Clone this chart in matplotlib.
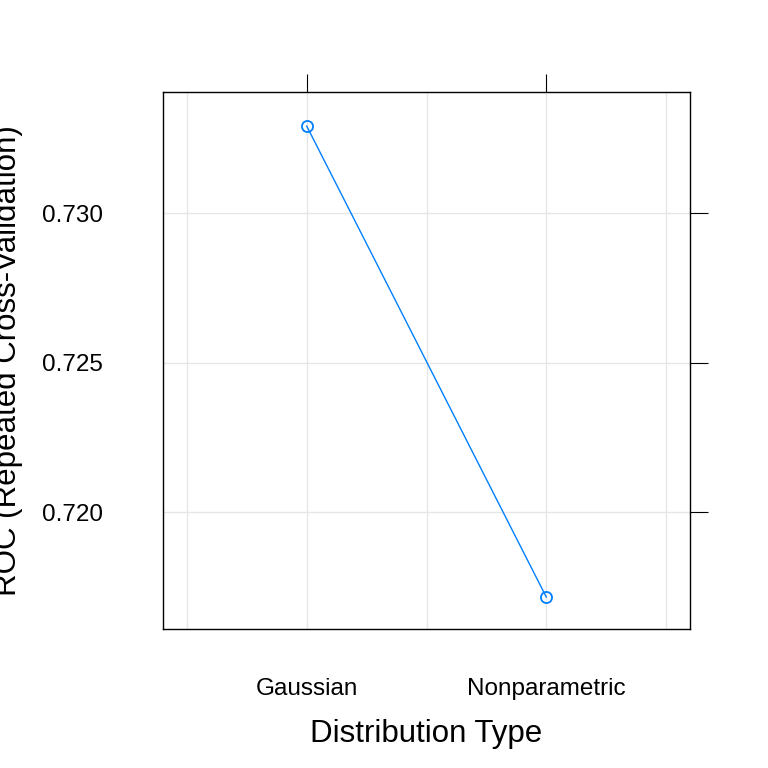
import matplotlib
matplotlib.use("Agg")
import matplotlib.pyplot as plt

categories = ["Gaussian", "Nonparametric"]
roc = [0.73291, 0.71716]
yticks = [0.720, 0.725, 0.730]

plt.rcParams['font.family'] = ['Liberation Sans', 'DejaVu Sans']
fig = plt.figure(figsize=(7.68, 7.68), dpi=100)
ax = fig.add_axes([163/768, 1-629/768, 527/768, 537/768])

xs = [1, 2]
for g in [0.5, 1, 1.5, 2, 2.5]:
    ax.axvline(g, color="#e6e6e6", lw=1, zorder=0)
for t in yticks:
    ax.axhline(t, color="#e6e6e6", lw=1, zorder=0)

ax.plot(xs, roc, color="#0080ff", lw=1, marker="o", ms=8,
        mfc="none", mec="#0080ff", mew=1.3)

ax.set_xlim(0.4, 2.6)
ax.set_ylim(0.71609, 0.73405)
ax.set_xticks(xs)
ax.set_xticklabels(categories)
ax.set_yticks(yticks)
ax.set_yticklabels([f"{t:.3f}" for t in yticks])
ax.tick_params(axis="x", top=True, bottom=False, direction="out", length=13,
               labelsize=17.5, pad=22)
ax.tick_params(axis="y", left=False, right=True, direction="out", length=13,
               labelsize=17.5, pad=30)
for s in ax.spines.values():
    s.set_linewidth(1)

ax.set_xlabel("Distribution Type", fontsize=22.5, labelpad=14)
ax.set_ylabel("ROC (Repeated Cross-Validation)", fontsize=22.5, labelpad=14)

fig.savefig("out.png", dpi=100)
